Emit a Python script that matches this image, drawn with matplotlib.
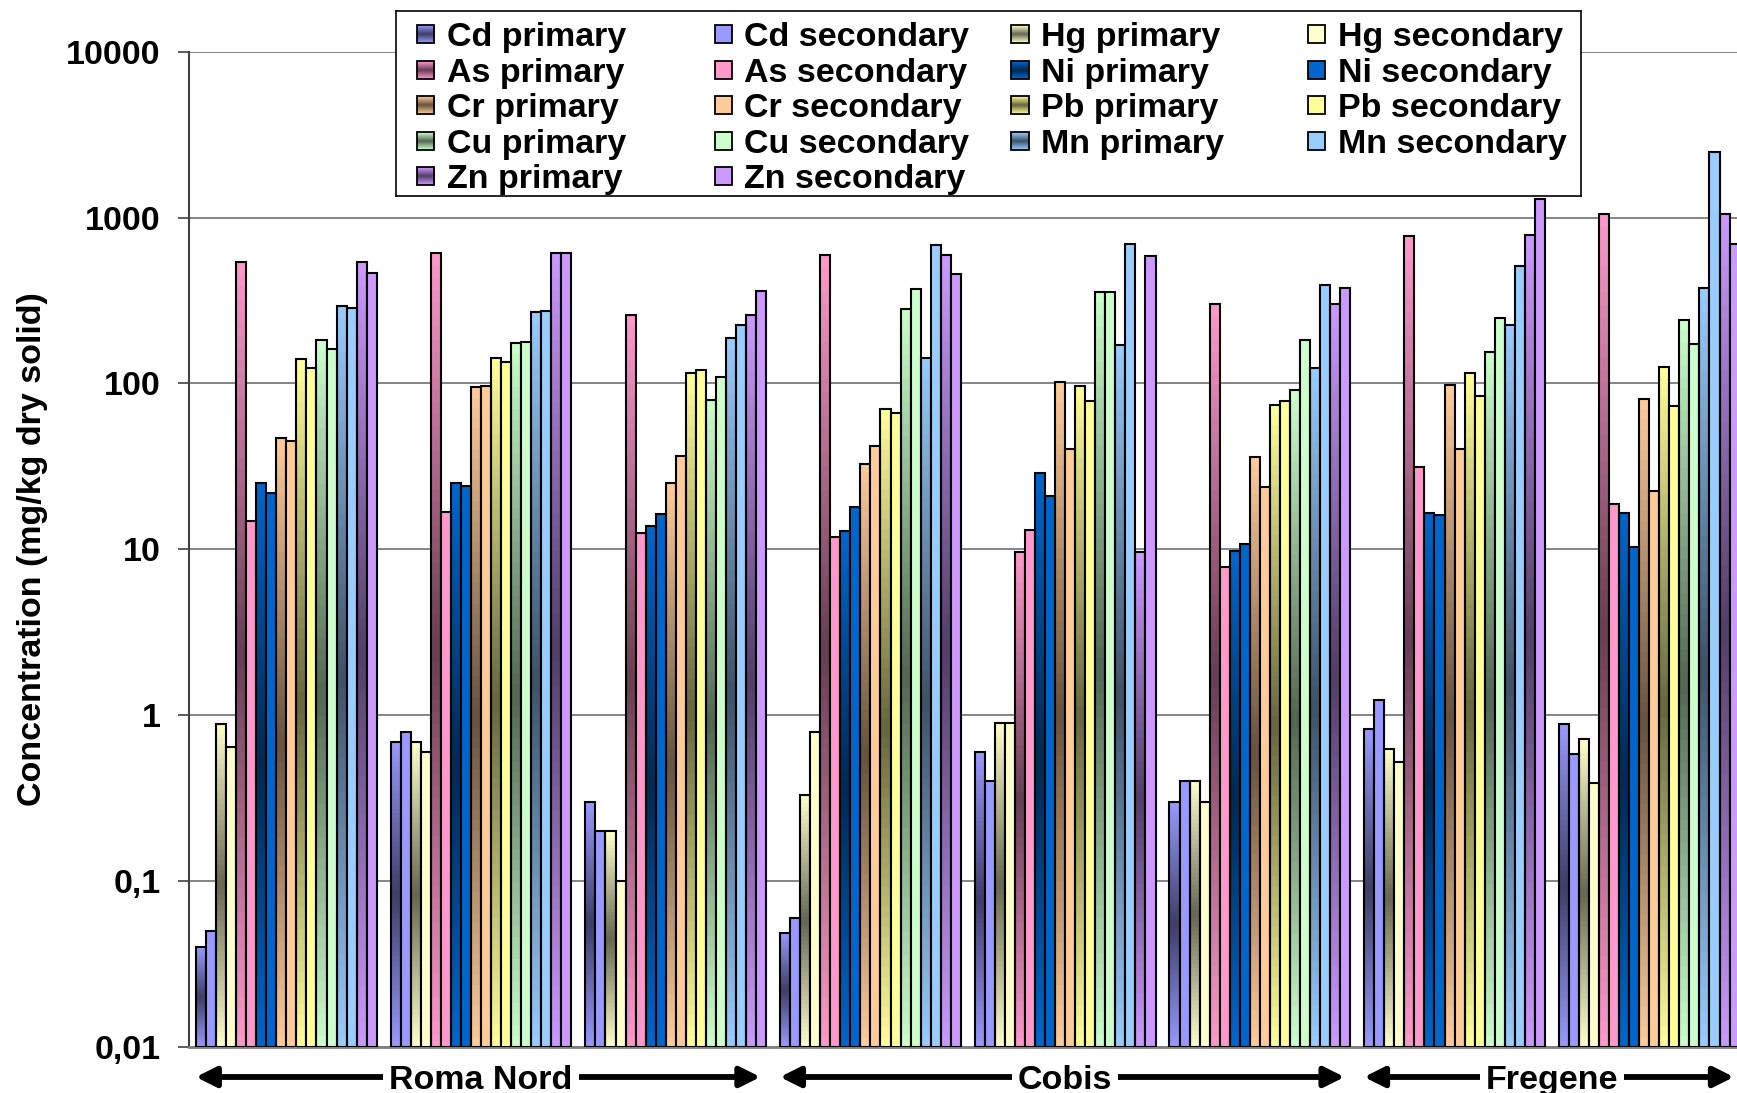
import numpy as np
import matplotlib
matplotlib.use("Agg")
import matplotlib.pyplot as plt
from matplotlib.patches import Rectangle
from matplotlib.colors import to_rgb
from matplotlib.ticker import NullLocator

plt.rcParams["font.family"] = ["Liberation Sans", "DejaVu Sans"]
plt.rcParams["font.weight"] = "bold"

# ---------------------------------------------------------------- data
sites = ["Roma Nord", "Cobis", "Fregene"]
samples_per_site = [3, 3, 2]

cd_primary = [0.040, 0.69, 0.30, 0.049, 0.60, 0.30, 0.83, 0.88]
cd_secondary = [0.050, 0.79, 0.20, 0.060, 0.40, 0.40, 1.24, 0.58]
hg_primary = [0.89, 0.69, 0.20, 0.33, 0.90, 0.40, 0.63, 0.72]
hg_secondary = [0.64, 0.60, 0.10, 0.79, 0.90, 0.30, 0.52, 0.39]
as_primary = [542, 614, 259, 593, 9.7, 301, 774, 1055]
as_secondary = [14.9, 16.9, 12.6, 11.9, 13.0, 7.85, 31.3, 18.8]
ni_primary = [25.0, 25.0, 13.9, 12.9, 28.7, 9.8, 16.6, 16.6]
ni_secondary = [22.0, 24.1, 16.3, 17.9, 20.9, 10.7, 16.2, 10.4]
cr_primary = [46.7, 94.9, 25.1, 32.8, 102, 35.8, 98, 80.4]
cr_secondary = [45.2, 96.6, 36.7, 42.0, 40.4, 23.8, 40.1, 22.4]
pb_primary = [140, 142, 115, 70.2, 97, 74.1, 115, 126]
pb_secondary = [124, 134, 120, 66.4, 78.3, 78.3, 84, 73]
cu_primary = [183, 175, 79.6, 282, 358, 91, 154, 241]
cu_secondary = [161, 179, 109, 369, 355, 184, 249, 172]
mn_primary = [293, 269, 187, 142, 171, 124, 224, 374]
mn_secondary = [284, 273, 226, 679, 690, 393, 513, 2470]
zn_primary = [542, 614, 259, 593, 9.7, 301, 781, 1055]
zn_secondary = [465, 608, 360, 460, 584, 378, 1291, 692]

metal_colors = {
    "Cd": "#9999FF", "Hg": "#FFFFCC", "As": "#FF99CC", "Ni": "#0066CC",
    "Cr": "#FFCC99", "Pb": "#FFFF99", "Cu": "#CCFFCC", "Mn": "#99CCFF",
    "Zn": "#CC99FF",
}

series = [
    ("Cd primary", cd_primary, "Cd", True), ("Cd secondary", cd_secondary, "Cd", False),
    ("Hg primary", hg_primary, "Hg", True), ("Hg secondary", hg_secondary, "Hg", False),
    ("As primary", as_primary, "As", True), ("As secondary", as_secondary, "As", False),
    ("Ni primary", ni_primary, "Ni", True), ("Ni secondary", ni_secondary, "Ni", False),
    ("Cr primary", cr_primary, "Cr", True), ("Cr secondary", cr_secondary, "Cr", False),
    ("Pb primary", pb_primary, "Pb", True), ("Pb secondary", pb_secondary, "Pb", False),
    ("Cu primary", cu_primary, "Cu", True), ("Cu secondary", cu_secondary, "Cu", False),
    ("Mn primary", mn_primary, "Mn", True), ("Mn secondary", mn_secondary, "Mn", False),
    ("Zn primary", zn_primary, "Zn", True), ("Zn secondary", zn_secondary, "Zn", False),
]

y_ticks = [0.01, 0.1, 1, 10, 100, 1000, 10000]
y_tick_labels = ["0,01", "0,1", "1", "10", "100", "1000", "10000"]

# ---------------------------------------------------------------- layout
W, H, DPI = 1737, 1093, 100
FS = 24.5
BASE = 0.01
DARK = 0.40          # darkest point of the centre gradient
N_STRIPES = 64

ax_left_px, ax_top_px, ax_bottom_px = 189, 51.7, 1047
cat_pitch_px = 194.7

fig = plt.figure(figsize=(W / DPI, H / DPI), dpi=DPI)
ax = fig.add_axes([ax_left_px / W, 1 - ax_bottom_px / H,
                   1 - ax_left_px / W, (ax_bottom_px - ax_top_px) / H])


def shade(rgb, t):
    k = 1 - (1 - DARK) * (1 - abs(2 * t - 1))
    return tuple(c * k for c in rgb)


n_cat = len(cd_primary)
cats = np.arange(n_cat)
n_series = len(series)
bw = 10.04 / cat_pitch_px
offsets = (np.arange(n_series) - (n_series - 1) / 2) * bw

for i, (label, vals, metal, primary) in enumerate(series):
    vals = np.asarray(vals, dtype=float)
    x = cats + offsets[i]
    rgb = to_rgb(metal_colors[metal])
    if primary:
        for k in range(N_STRIPES):
            lo = BASE * (vals / BASE) ** (k / N_STRIPES)
            hi = BASE * (vals / BASE) ** ((k + 1) / N_STRIPES)
            ax.bar(x, hi - lo, bottom=lo, width=bw,
                   color=shade(rgb, (k + 0.5) / N_STRIPES),
                   linewidth=0, antialiased=False, zorder=2)
        ax.bar(x, vals - BASE, bottom=BASE, width=bw, fill=False,
               edgecolor="black", linewidth=1.5, zorder=3)
    else:
        ax.bar(x, vals - BASE, bottom=BASE, width=bw, color=rgb,
               edgecolor="black", linewidth=1.5, zorder=3)

ax.set_yscale("log")
ax.set_ylim(BASE, 10000)
ax.set_xlim(-0.5, -0.5 + (W - ax_left_px) / cat_pitch_px)
ax.set_yticks(y_ticks, y_tick_labels)
ax.yaxis.set_minor_locator(NullLocator())
ax.set_xticks([])
ax.tick_params(axis="y", direction="out", length=8, width=1.2,
               color="#404040", pad=12.5, labelsize=FS)
ax.yaxis.grid(True, color="#707070", linewidth=1.2)
ax.set_axisbelow(True)
for s in ("top", "right"):
    ax.spines[s].set_visible(False)
ax.spines["left"].set_color("#404040")
ax.spines["left"].set_linewidth(1.5)
ax.spines["bottom"].set_color("#808080")
ax.spines["bottom"].set_linewidth(2)

fig.text(33 / W, 1 - 549 / H, "Concentration (mg/kg dry solid)",
         rotation=90, ha="center", va="center", fontsize=FS)

# site spans with double-headed arrows under the axis
trans = ax.get_xaxis_transform()
y_arrow = (ax_bottom_px - 1077) / (ax_bottom_px - ax_top_px)
start = -0.5
for site, n in zip(sites, samples_per_site):
    end = start + n
    ax.annotate("", xy=(end - 0.065, y_arrow), xytext=(start + 0.035, y_arrow),
                xycoords=trans, textcoords=trans, annotation_clip=False,
                arrowprops=dict(arrowstyle="<|-|>,head_length=12,head_width=6",
                                mutation_scale=1, lw=4.2, color="black",
                                shrinkA=0, shrinkB=0))
    ax.text((start + end) / 2, y_arrow, site, transform=trans, ha="center",
            va="center_baseline", fontsize=FS, clip_on=False, zorder=6,
            bbox=dict(boxstyle="square,pad=0.18", fc="white", ec="none"))
    start = end

# legend box, laid out in pixel units
lx0, ly0, lx1, ly1 = 395.5, 11, 1581, 196
leg = fig.add_axes([lx0 / W, 1 - ly1 / H, (lx1 - lx0) / W, (ly1 - ly0) / H],
                   zorder=10)
leg.set_xticks([])
leg.set_yticks([])
for s in leg.spines.values():
    s.set_color("black")
    s.set_linewidth(1.2)

row_y = [34.3, 69.8, 105.2, 140.7, 176.1]
col_x = [416.5, 714.5, 1011.3, 1307.6]
sw = 17.7
tt = np.linspace(0, 1, 32)
for i, (label, vals, metal, primary) in enumerate(series):
    r, c = divmod(i, 4)
    x0, yc = col_x[c], row_y[r]
    rgb = to_rgb(metal_colors[metal])
    if primary:
        img = np.array([[shade(rgb, t)] for t in tt])
        leg.imshow(img, extent=(x0, x0 + sw, yc + sw / 2, yc - sw / 2),
                   aspect="auto", interpolation="bilinear", zorder=2)
        leg.add_patch(Rectangle((x0, yc - sw / 2), sw, sw, fill=False,
                                ec="black", lw=1.3, zorder=3))
    else:
        leg.add_patch(Rectangle((x0, yc - sw / 2), sw, sw, fc=rgb,
                                ec="black", lw=1.3, zorder=3))
    leg.text(x0 + 30, yc, label, ha="left", va="center_baseline", fontsize=FS)

leg.set_xlim(lx0, lx1)
leg.set_ylim(ly1, ly0)

fig.savefig("out.png", dpi=DPI)
